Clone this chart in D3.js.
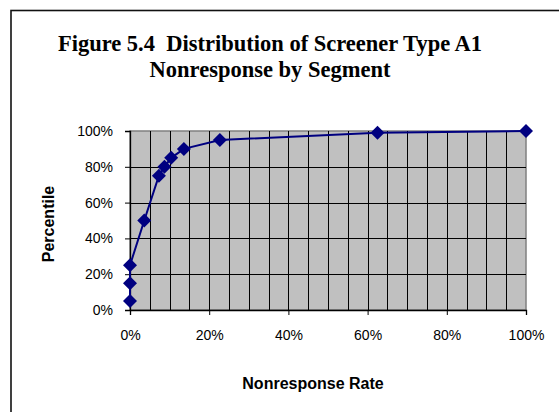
<!DOCTYPE html>
<html>
<head>
<meta charset="utf-8">
<script src="https://cdn.jsdelivr.net/npm/d3@7"></script>
<style>
  body { margin: 0; background: #fff; }
  svg { display: block; }
</style>
</head>
<body>
<div id="chart"></div>
<script>
(function() {
    // nonresponse rate (%) vs percentile (%)
    var rates = [0, 0, 0, 3.6, 7.3, 8.7, 10.4, 13.6, 22.7, 62.5, 100];
    var percentiles = [5, 15, 25, 50, 75, 80, 85, 90, 95, 99, 100];
    var xTicks = [0, 20, 40, 60, 80, 100];
    var yTicks = [0, 20, 40, 60, 80, 100];
    var titleLines = ["Figure 5.4  Distribution of Screener Type A1", "Nonresponse by Segment"];

    var width = 559, height = 412;
    var plot = {left: 130, right: 526, top: 131, bottom: 310};

    var svg = d3.select("#chart")
        .append("svg")
        .attr("width", width)
        .attr("height", height);

    // outer frame (open on right and bottom, clipped by the page)
    svg.append("rect")
        .attr("x", 11)
        .attr("y", 10.5)
        .attr("width", 600)
        .attr("height", 500)
        .style("fill", "none")
        .style("stroke", "#111")
        .style("stroke-width", 1.6);

    svg.selectAll(".title")
        .data(titleLines)
        .enter()
        .append("text")
        .attr("class", "title")
        .attr("x", 270)
        .attr("y", function(d, i) { return 51 + i * 26; })
        .style("text-anchor", "middle")
        .style("font-family", "'Liberation Serif', 'Times New Roman', serif")
        .style("font-weight", "bold")
        .style("font-size", "22.5px")
        .style("white-space", "pre")
        .text(function(d) { return d; });

    var x = d3.scaleLinear().domain([0, 100]).range([plot.left, plot.right]);
    var y = d3.scaleLinear().domain([0, 100]).range([plot.bottom, plot.top]);

    svg.append("rect")
        .attr("x", plot.left)
        .attr("y", plot.top)
        .attr("width", plot.right - plot.left)
        .attr("height", plot.bottom - plot.top)
        .style("fill", "#c0c0c0")
        .style("stroke", "#808080")
        .style("stroke-width", 1.5);

    // vertical grid every 5%
    svg.append("g")
        .selectAll("line")
        .data(d3.range(5, 100, 5))
        .enter()
        .append("line")
        .attr("x1", function(d) { return Math.round(x(d)) + 0.5; })
        .attr("x2", function(d) { return Math.round(x(d)) + 0.5; })
        .attr("y1", plot.top)
        .attr("y2", plot.bottom)
        .style("stroke", "#000")
        .style("stroke-width", 1);

    // horizontal grid
    svg.append("g")
        .selectAll("line")
        .data(yTicks.slice(1, -1))
        .enter()
        .append("line")
        .attr("x1", plot.left)
        .attr("x2", plot.right)
        .attr("y1", function(d) { return Math.round(y(d)) + 0.5; })
        .attr("y2", function(d) { return Math.round(y(d)) + 0.5; })
        .style("stroke", "#000")
        .style("stroke-width", 1);

    var fmt = function(d) { return d + "%"; };

    var xAxis = svg.append("g")
        .attr("transform", "translate(0," + plot.bottom + ")")
        .call(d3.axisBottom(x).tickValues(xTicks).tickFormat(fmt).tickSize(5).tickPadding(15));
    var yAxis = svg.append("g")
        .attr("transform", "translate(" + plot.left + ",0)")
        .call(d3.axisLeft(y).tickValues(yTicks).tickFormat(fmt).tickSize(5).tickPadding(12));

    [xAxis, yAxis].forEach(function(ax) {
        ax.select(".domain").style("stroke", "#000").style("stroke-width", 1.3);
        ax.selectAll(".tick line").style("stroke", "#000");
        ax.selectAll("text")
            .style("font-family", "'Liberation Sans', Arial, sans-serif")
            .style("font-size", "14px")
            .style("fill", "#000");
    });

    svg.append("text")
        .attr("x", 313)
        .attr("y", 389)
        .style("text-anchor", "middle")
        .style("font-family", "'Liberation Sans', Arial, sans-serif")
        .style("font-weight", "bold")
        .style("font-size", "16px")
        .text("Nonresponse Rate");

    svg.append("text")
        .attr("transform", "translate(54,224) rotate(-90)")
        .style("text-anchor", "middle")
        .style("font-family", "'Liberation Sans', Arial, sans-serif")
        .style("font-weight", "bold")
        .style("font-size", "16px")
        .text("Percentile");

    var points = rates.map(function(r, i) { return {x: r, y: percentiles[i]}; });

    var line = d3.line()
        .x(function(d) { return x(d.x); })
        .y(function(d) { return y(d.y); });

    svg.append("path")
        .datum(points)
        .attr("d", line)
        .style("fill", "none")
        .style("stroke", "#000080")
        .style("stroke-width", 2);

    svg.append("g")
        .selectAll("path")
        .data(points)
        .enter()
        .append("path")
        .attr("transform", function(d) {
            return "translate(" + x(d.x) + "," + y(d.y) + ")";
        })
        .attr("d", "M0,-7L7,0L0,7L-7,0Z")
        .style("fill", "#000080");
})();
</script>
</body>
</html>
